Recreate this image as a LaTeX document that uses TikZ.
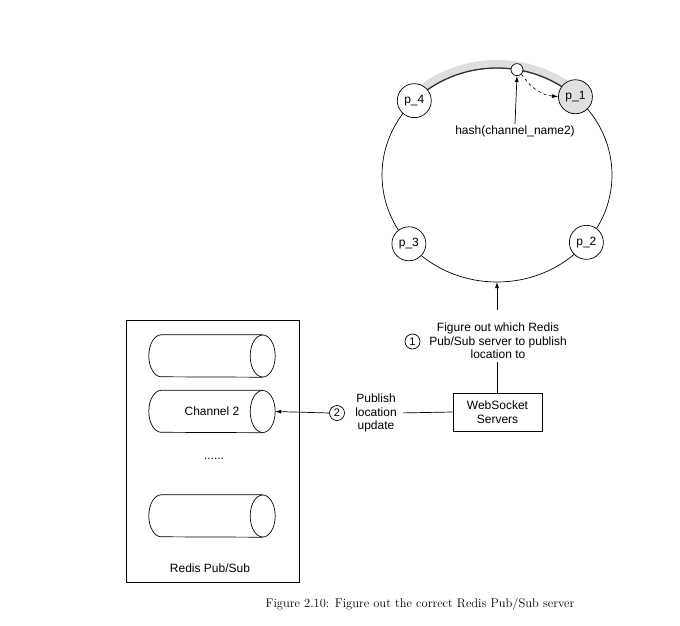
\documentclass[tikz,border=0pt]{standalone}
\usepackage{fontspec}
\setsansfont{Liberation Sans}
\usetikzlibrary{arrows.meta,calc}
\begin{document}
\begin{tikzpicture}[x=1pt,y=-1pt,
  lbl/.style={font=\sffamily\fontsize{12}{13.5}\selectfont, align=center, inner sep=1pt},
  pnode/.style={draw, circle, fill=white, minimum size=34pt, inner sep=0pt, line width=0.7pt, font=\sffamily\fontsize{12}{13.5}\selectfont},
  numc/.style={draw, circle, minimum size=15pt, inner sep=0pt, line width=0.7pt, font=\sffamily\fontsize{11}{12}\selectfont},
  cylbox/.style={minimum width=126pt, minimum height=42pt, inner sep=0pt, font=\sffamily\fontsize{12}{13.5}\selectfont},
  arr/.style={-{Latex[length=6pt,width=4pt]}, line width=0.7pt},
  conn/.style={line width=0.7pt}]
\useasboundingbox (0,0) rectangle (680,626);
% ring
\draw[line width=0.7pt] (497,175) ellipse [x radius=115pt, y radius=107pt];
% gray band
\draw[line width=8pt, black!13, line cap=round] plot[domain=50:134, samples=50] ({497+119*cos(\x)},{175-111*sin(\x)});
\draw[line width=1.3pt, black!80] plot[domain=47:136, samples=50] ({497+115*cos(\x)},{175-107*sin(\x)});
% partition nodes
\node[pnode] (p4) at ({497+115*cos(136)},{175-107*sin(136)}) {p\_4};
\node[pnode, fill=black!12] (p1) at ({497+115*cos(47)},{175-107*sin(47)}) {p\_1};
\node[pnode] (p3) at ({497+115*cos(220)},{175-107*sin(220)}) {p\_3};
\node[pnode] (p2) at ({497+115*cos(321)},{175-107*sin(321)}) {p\_2};
\node[draw, circle, fill=white, minimum size=12pt, inner sep=0pt, line width=0.7pt] (h) at ({497+115*cos(80)},{175-107*sin(80)}) {};
\coordinate (ringbot) at (497,282);
% hash label
\node[lbl] (hash) at (515,131) {hash(channel\_name2)};
\draw[arr] (hash.north) -- (h.south);
\draw[arr, dashed, line width=0.6pt] (h.south east) to[bend right=25] (p1.west);
% step 1
\node[lbl] (fig) at (498,341) {Figure out which Redis\\Pub/Sub server to publish\\location to};
\node[numc] (n1) at (412.5,341.5) {1};
\coordinate (figtop) at (497,310);
\draw[arr] (figtop) -- (ringbot);
% websocket
\node[draw, line width=0.7pt, minimum width=89pt, minimum height=38pt, lbl] (ws) at (497.5,412) {WebSocket\\Servers};
\coordinate (figbot) at (497,362);
\draw[conn] (ws.north -| figbot) -- (figbot);
% step 2
\node[lbl] (pub) at (376,413) {Publish\\location\\update};
\node[numc] (n2) at (337,413) {2};
\draw[conn, shorten >=5pt] (ws.west) -- (pub.east);
% redis box
\node[draw, line width=0.7pt, minimum width=173pt, minimum height=262pt, inner sep=0pt] (redis) at (212.5,451) {};
\node[cylbox] (c1) at (212,356) {};
\node[cylbox] (c2) at (212,411.5) {Channel 2};
\node[cylbox] (c3) at (212,516) {};
\foreach \c in {c1,c2,c3}{
  \draw[line width=0.7pt] ($(\c.north east)+(-12.5,0)$) -- ($(\c.north west)+(12.5,0)$)
     arc[start angle=90, end angle=270, x radius=12.5pt, y radius=21pt]
     -- ($(\c.south east)+(-12.5,0)$);
  \draw[line width=0.7pt] ($(\c.east)+(-12.5,0)$) ellipse [x radius=12.5pt, y radius=21pt];
}
\node[lbl] (dots) at (214,459) {......};
\node[lbl] (rlbl) at (210,568) {Redis Pub/Sub};
\draw[arr] (n2.west) -- (c2.east);
% caption
\node[font=\fontsize{12.5}{14}\selectfont, anchor=base] (cap) at (420,607) {Figure 2.10: Figure out the correct Redis Pub/Sub server};
\end{tikzpicture}
\end{document}
